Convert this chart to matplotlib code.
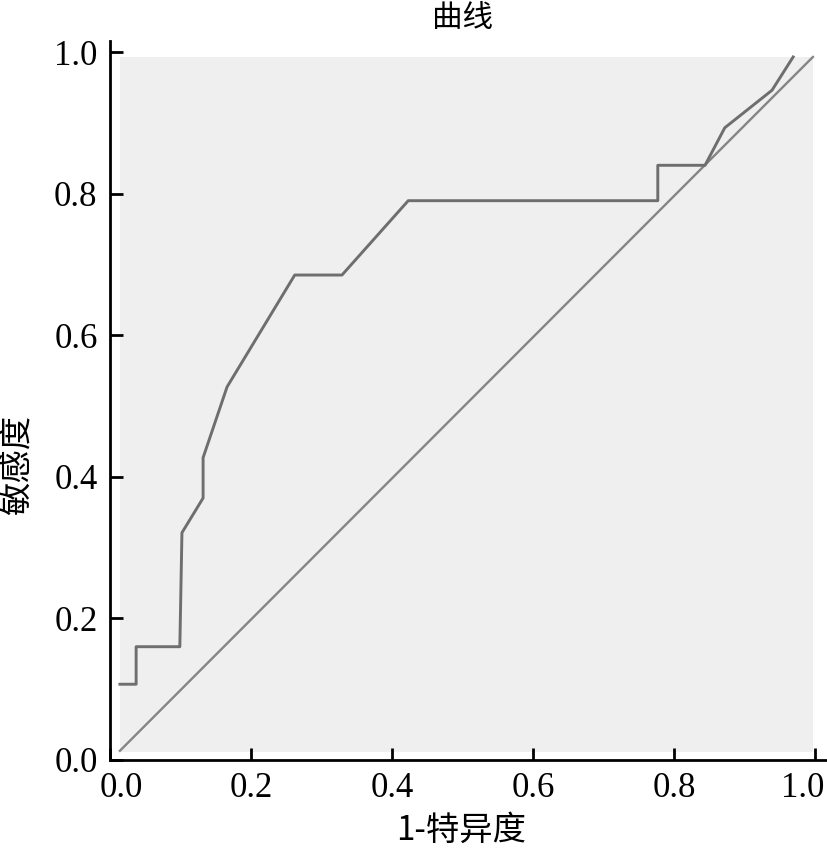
import matplotlib.pyplot as plt
from matplotlib.patches import Rectangle
from matplotlib.transforms import ScaledTranslation

# ROC curve points
fpr = [0.014, 0.037, 0.037, 0.099, 0.102, 0.132, 0.132, 0.166, 0.262, 0.329,
       0.423, 0.777, 0.777, 0.844, 0.872, 0.939, 0.969]
tpr = [0.107, 0.107, 0.160, 0.160, 0.321, 0.370, 0.427, 0.527, 0.685, 0.685,
       0.790, 0.790, 0.840, 0.840, 0.893, 0.946, 0.993]
ref_x = [0.014, 0.997]
ref_y = [0.013, 0.993]
ticks = [0.0, 0.2, 0.4, 0.6, 0.8, 1.0]
tick_labels = ['0.0', '0.2', '0.4', '0.6', '0.8', '1.0']

cjk = ['Noto Sans CJK SC', 'DejaVu Sans']

fig = plt.figure(figsize=(8.28, 8.5), dpi=100)
ax = fig.add_axes([0.1329, 0.1059, 0.8514, 0.8329])

# gray plot area, slightly inset from the axis lines
ax.add_patch(Rectangle((0.014, 0.011), 0.983, 0.982, facecolor='#efefef',
                       edgecolor='none', zorder=0))

ax.plot(ref_x, ref_y, color='#858585', lw=1.7, zorder=2)
ax.plot(fpr, tpr, color='#6e6e6e', lw=2.1, zorder=3)

ax.set_xlim(0, 1.0)
ax.set_ylim(0, 1.0)
ax.set_xticks(ticks)
ax.set_yticks(ticks)
ax.set_xticklabels(tick_labels, family='Liberation Serif', fontsize=25)
ax.set_yticklabels(tick_labels, family='Liberation Serif', fontsize=25)
ax.tick_params(direction='in', length=9, width=2, pad=9)

# end labels on the x axis sit a bit inward
xl = ax.get_xticklabels()
xl[0].set_transform(xl[0].get_transform() + ScaledTranslation(0.11, 0, fig.dpi_scale_trans))
xl[-1].set_transform(xl[-1].get_transform() + ScaledTranslation(-0.12, 0, fig.dpi_scale_trans))

for s in ['top', 'right']:
    ax.spines[s].set_visible(False)
for s in ['left', 'bottom']:
    ax.spines[s].set_linewidth(2)
    ax.spines[s].set_color('black')
ax.spines['left'].set_bounds(0, 1.015)
ax.spines['bottom'].set_bounds(0, 1.015)

# axis titles and chart title
fig.text(0.557, 0.0235, '1-特异度', family=cjk, fontsize=24, ha='center', va='center')
fig.text(0.021, 0.453, '敏感度', family=cjk, fontsize=24, rotation=90,
         ha='center', va='center')
fig.text(0.559, 0.978, '曲线', family=cjk, fontsize=22, ha='center', va='center')

fig.savefig('out.png', dpi=100, facecolor='white')
